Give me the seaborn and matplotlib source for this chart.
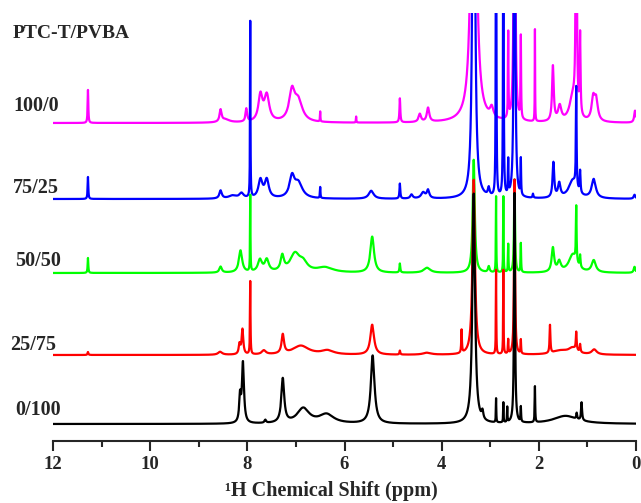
import numpy as np
import pandas as pd
import seaborn as sns
from matplotlib import pyplot as plt

# peak tables: (shift ppm, height, half width ppm)
peaks_0_100 = [(8.15, 25, 0.02), (8.09, 60, 0.025), (7.63, 3, 0.02), (7.27, 44, 0.035),
               (6.85, 15, 0.15), (6.37, 9, 0.18), (5.42, 68, 0.045), (3.34, 230, 0.032),
               (3.16, 8, 0.02), (2.88, 24, 0.005), (2.73, 20, 0.005), (2.65, 15, 0.005),
               (2.50, 230, 0.012), (2.37, 15, 0.006), (2.08, 36, 0.006), (1.45, 8, 0.3),
               (1.22, 6, 0.01), (1.12, 18, 0.012)]
peaks_25_75 = [(11.28, 3, 0.01), (8.56, 3, 0.05), (8.16, 10, 0.02), (8.10, 25, 0.02),
               (7.94, 73, 0.006), (7.66, 4, 0.05), (7.27, 19, 0.03), (6.9, 9, 0.2),
               (6.35, 4, 0.15), (5.43, 30, 0.045), (4.86, 4, 0.01), (4.3, 2, 0.1),
               (3.59, 23, 0.008), (3.34, 175, 0.03), (2.88, 84, 0.005), (2.73, 84, 0.005),
               (2.63, 14, 0.006), (2.50, 175, 0.012), (2.37, 14, 0.006), (1.77, 28, 0.01),
               (1.55, 4, 0.2), (1.3, 6, 0.1), (1.23, 18, 0.01), (1.15, 8, 0.01), (0.86, 5, 0.06)]
peaks_50_50 = [(11.28, 15, 0.008), (8.55, 6, 0.03), (8.14, 22, 0.04), (7.94, 76, 0.005),
               (7.74, 12, 0.05), (7.6, 12, 0.05), (7.28, 15, 0.04), (7.02, 18, 0.12),
               (6.85, 8, 0.1), (6.4, 5, 0.2), (5.43, 36, 0.045), (4.86, 9, 0.01),
               (4.3, 5, 0.08), (3.34, 113, 0.025), (3.03, 6, 0.02), (2.88, 76, 0.005),
               (2.73, 76, 0.005), (2.63, 28, 0.006), (2.50, 93, 0.012), (2.37, 29, 0.006),
               (1.71, 24, 0.03), (1.58, 10, 0.04), (1.3, 18, 0.1), (1.23, 55, 0.008),
               (1.15, 12, 0.01), (0.87, 12, 0.05), (0.03, 6, 0.02)]
peaks_75_25 = [(11.28, 22, 0.008), (8.55, 8, 0.03), (8.3, 3, 0.1), (8.12, 5, 0.05),
               (7.94, 176, 0.005), (7.73, 18, 0.05), (7.6, 18, 0.05), (7.08, 20, 0.06),
               (6.95, 15, 0.1), (6.5, 11, 0.006), (5.45, 8, 0.06), (4.86, 15, 0.01),
               (4.62, 4, 0.03), (4.38, 6, 0.05), (4.28, 8, 0.03), (3.34, 600, 0.024),
               (3.03, 8, 0.02), (2.88, 600, 0.005), (2.73, 600, 0.005), (2.63, 34, 0.006),
               (2.50, 600, 0.012), (2.37, 36, 0.006), (2.12, 4, 0.01), (1.70, 35, 0.02),
               (1.58, 14, 0.03), (1.3, 18, 0.1), (1.23, 100, 0.008), (1.15, 22, 0.01),
               (0.87, 19, 0.05), (0.03, 4, 0.02)]
peaks_100_0 = [(11.28, 33, 0.008), (8.55, 12, 0.025), (8.45, 3, 0.1), (8.02, 13, 0.02),
               (7.73, 26, 0.05), (7.6, 26, 0.06), (7.08, 29, 0.07), (6.95, 20, 0.1),
               (6.5, 10, 0.005), (5.76, 6, 0.005), (4.86, 24, 0.01), (4.45, 8, 0.03),
               (4.28, 14, 0.03), (3.34, 600, 0.042), (2.97, 10, 0.04), (2.63, 85, 0.006),
               (2.50, 600, 0.012), (2.37, 82, 0.006), (2.08, 92, 0.004), (1.71, 55, 0.02),
               (1.57, 15, 0.04), (1.3, 25, 0.08), (1.23, 600, 0.008), (1.15, 80, 0.01),
               (0.88, 22, 0.04), (0.82, 20, 0.04), (0.02, 12, 0.02)]

samples = ["100/0", "75/25", "50/50", "25/75", "0/100"]
peak_tables = [peaks_100_0, peaks_75_25, peaks_50_50, peaks_25_75, peaks_0_100]
offsets = [318, 242, 168, 86, 17]
colors = ["#FF00FF", "#0000FF", "#00FF00", "#FF0000", "#000000"]
label_pos = [(13, 106), (13, 188), (15, 261), (10, 345), (15, 410)]  # pixels

ppm = np.linspace(0, 12, 12001)
frames = []
for name, peaks, off in zip(samples, peak_tables, offsets):
    y = np.full_like(ppm, off, dtype=float)
    for c, h, w in peaks:
        y += h * w**2 / ((ppm - c)**2 + w**2)
    frames.append(pd.DataFrame({"ppm": ppm, "intensity": y, "sample": name}))
df = pd.concat(frames, ignore_index=True)

sns.set_style("ticks")
plt.rcParams["font.family"] = ["Liberation Serif", "DejaVu Serif"]
plt.rcParams["font.weight"] = "bold"

W, H = 641, 503
fig = plt.figure(figsize=(W / 100, H / 100), dpi=100)
ax = fig.add_axes([53 / W, 62 / H, 583 / W, 428 / H])
sns.lineplot(data=df, x="ppm", y="intensity", hue="sample", hue_order=samples,
             palette=dict(zip(samples, colors)), estimator=None, sort=False,
             legend=False, linewidth=1.6, ax=ax)

ax.set_xlim(12, 0)
ax.set_ylim(0, 428)
ax.set_xticks(range(0, 13, 2))
ax.set_xticks(range(1, 12, 2), minor=True)
ax.set_xticklabels([str(v) for v in range(0, 13, 2)], fontsize=13.5, fontweight="bold")
ax.tick_params(axis="x", which="major", length=7, width=1.5, direction="out", pad=4)
ax.tick_params(axis="x", which="minor", length=4, width=1.5, direction="out")
ax.set_yticks([])
ax.set_ylabel("")
sns.despine(ax=ax, left=True, top=True, right=True)
ax.spines["bottom"].set_linewidth(1.5)

ax.set_xlabel("¹H Chemical Shift (ppm)", fontsize=14.5, fontweight="bold")
ax.xaxis.set_label_coords((331 - 53) / 583, (441 - 491) / 428)
ax.xaxis.label.set_va("center")

fig.text(13 / W, 1 - 34 / H, "PTC-T/PVBA", fontsize=14, fontweight="bold", va="center")
for name, (px, py) in zip(samples, label_pos):
    fig.text(px / W, 1 - py / H, name, fontsize=14.5, fontweight="bold", va="center")

fig.savefig("out.png", dpi=100)
